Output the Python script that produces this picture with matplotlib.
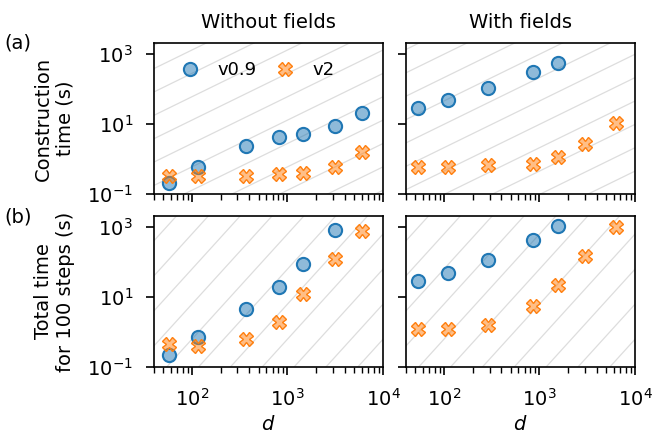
import matplotlib
matplotlib.use('Agg')
import matplotlib.pyplot as plt
import numpy as np
from matplotlib.ticker import NullLocator

plt.rcParams['font.size'] = 14

# d values
d_nofield = [58, 116, 372, 815, 1450, 3160, 6030]
d_field = [53, 111, 289, 845, 1550, 2970, 6350]

# construction time (s)
cons_v09_nofield = [0.21, 0.60, 2.3, 4.3, 5.0, 8.5, 20.6]
cons_v2_nofield = [0.33, 0.32, 0.33, 0.37, 0.40, 0.60, 1.55]
cons_v09_field = [28, 49, 107, 305, 540]
cons_v2_field = [0.58, 0.58, 0.65, 0.70, 1.1, 2.7, 10.5]

# total time for 100 steps (s)
tot_v09_nofield = [0.22, 0.72, 4.4, 19.4, 85, 810]
tot_v2_nofield = [0.45, 0.40, 0.64, 1.95, 12, 120, 760]
tot_v09_field = [29, 49, 110, 410, 1070]
tot_v2_field = [1.2, 1.2, 1.55, 5.3, 22, 145, 1000]

fig, axes = plt.subplots(2, 2, figsize=(6.52, 4.41), dpi=100, sharex=True, sharey=True)
fig.subplots_adjust(left=0.236, right=0.974, top=0.902, bottom=0.168, wspace=0.10, hspace=0.147)

blue = 'C0'
orange = 'C1'

def guides(ax, power, step, offset):
    # light background power-law lines
    xs = np.logspace(1, 5, 50)
    for k in range(-30, 30):
        ax.plot(xs, 10.0**(offset + k * step) * xs**power, color='#dddddd', lw=0.9, zorder=0)

def draw(ax, d1, y1, d2, y2):
    ax.plot(d1[:len(y1)], y1, 'o', ms=9.5, mfc=matplotlib.colors.to_rgba(blue, 0.5),
            mec=blue, mew=1.5, label='v0.9', zorder=3)
    ax.plot(d2[:len(y2)], y2, 'X', ms=10, mfc=matplotlib.colors.to_rgba(orange, 0.5),
            mec=orange, mew=1.0, label='v2', zorder=3)

guides(axes[0, 0], 4 / 3, 2 / 3, 0.44)
guides(axes[0, 1], 4 / 3, 2 / 3, 0.32)
guides(axes[1, 0], 3, 1, 0.79)
guides(axes[1, 1], 3, 1, 0.79)

draw(axes[0, 0], d_nofield, cons_v09_nofield, d_nofield, cons_v2_nofield)
draw(axes[0, 1], d_field, cons_v09_field, d_field, cons_v2_field)
draw(axes[1, 0], d_nofield, tot_v09_nofield, d_nofield, tot_v2_nofield)
draw(axes[1, 1], d_field, tot_v09_field, d_field, tot_v2_field)

for ax in axes.flat:
    ax.set_xscale('log')
    ax.set_yscale('log')
    ax.set_xlim(40, 1e4)
    ax.set_ylim(0.1, 2000)
    ax.set_yticks([1e-1, 1e1, 1e3])
    ax.yaxis.set_minor_locator(NullLocator())
    ax.set_xticks([1e2, 1e3, 1e4])
    ax.tick_params(which='major', direction='out', length=6, width=1.2, pad=9)
    ax.tick_params(which='minor', direction='out', length=4, width=1.0)
    for s in ax.spines.values():
        s.set_linewidth(1.2)

axes[0, 0].set_title('Without fields', fontsize=14, pad=11)
axes[0, 1].set_title('With fields', fontsize=14, pad=11)
axes[0, 0].set_ylabel('Construction\ntime (s)', labelpad=9)
axes[1, 0].set_ylabel('Total time\nfor 100 steps (s)', labelpad=9)
axes[1, 0].set_xlabel('$d$', labelpad=4)
axes[1, 1].set_xlabel('$d$', labelpad=4)
axes[0, 0].legend(loc='upper left', ncol=2, frameon=False, handletextpad=0.5,
                  columnspacing=0.6, fontsize=13, borderaxespad=0.6)

fig.text(0.006, 0.89, '(a)')
fig.text(0.006, 0.495, '(b)')

plt.savefig('out.png')
